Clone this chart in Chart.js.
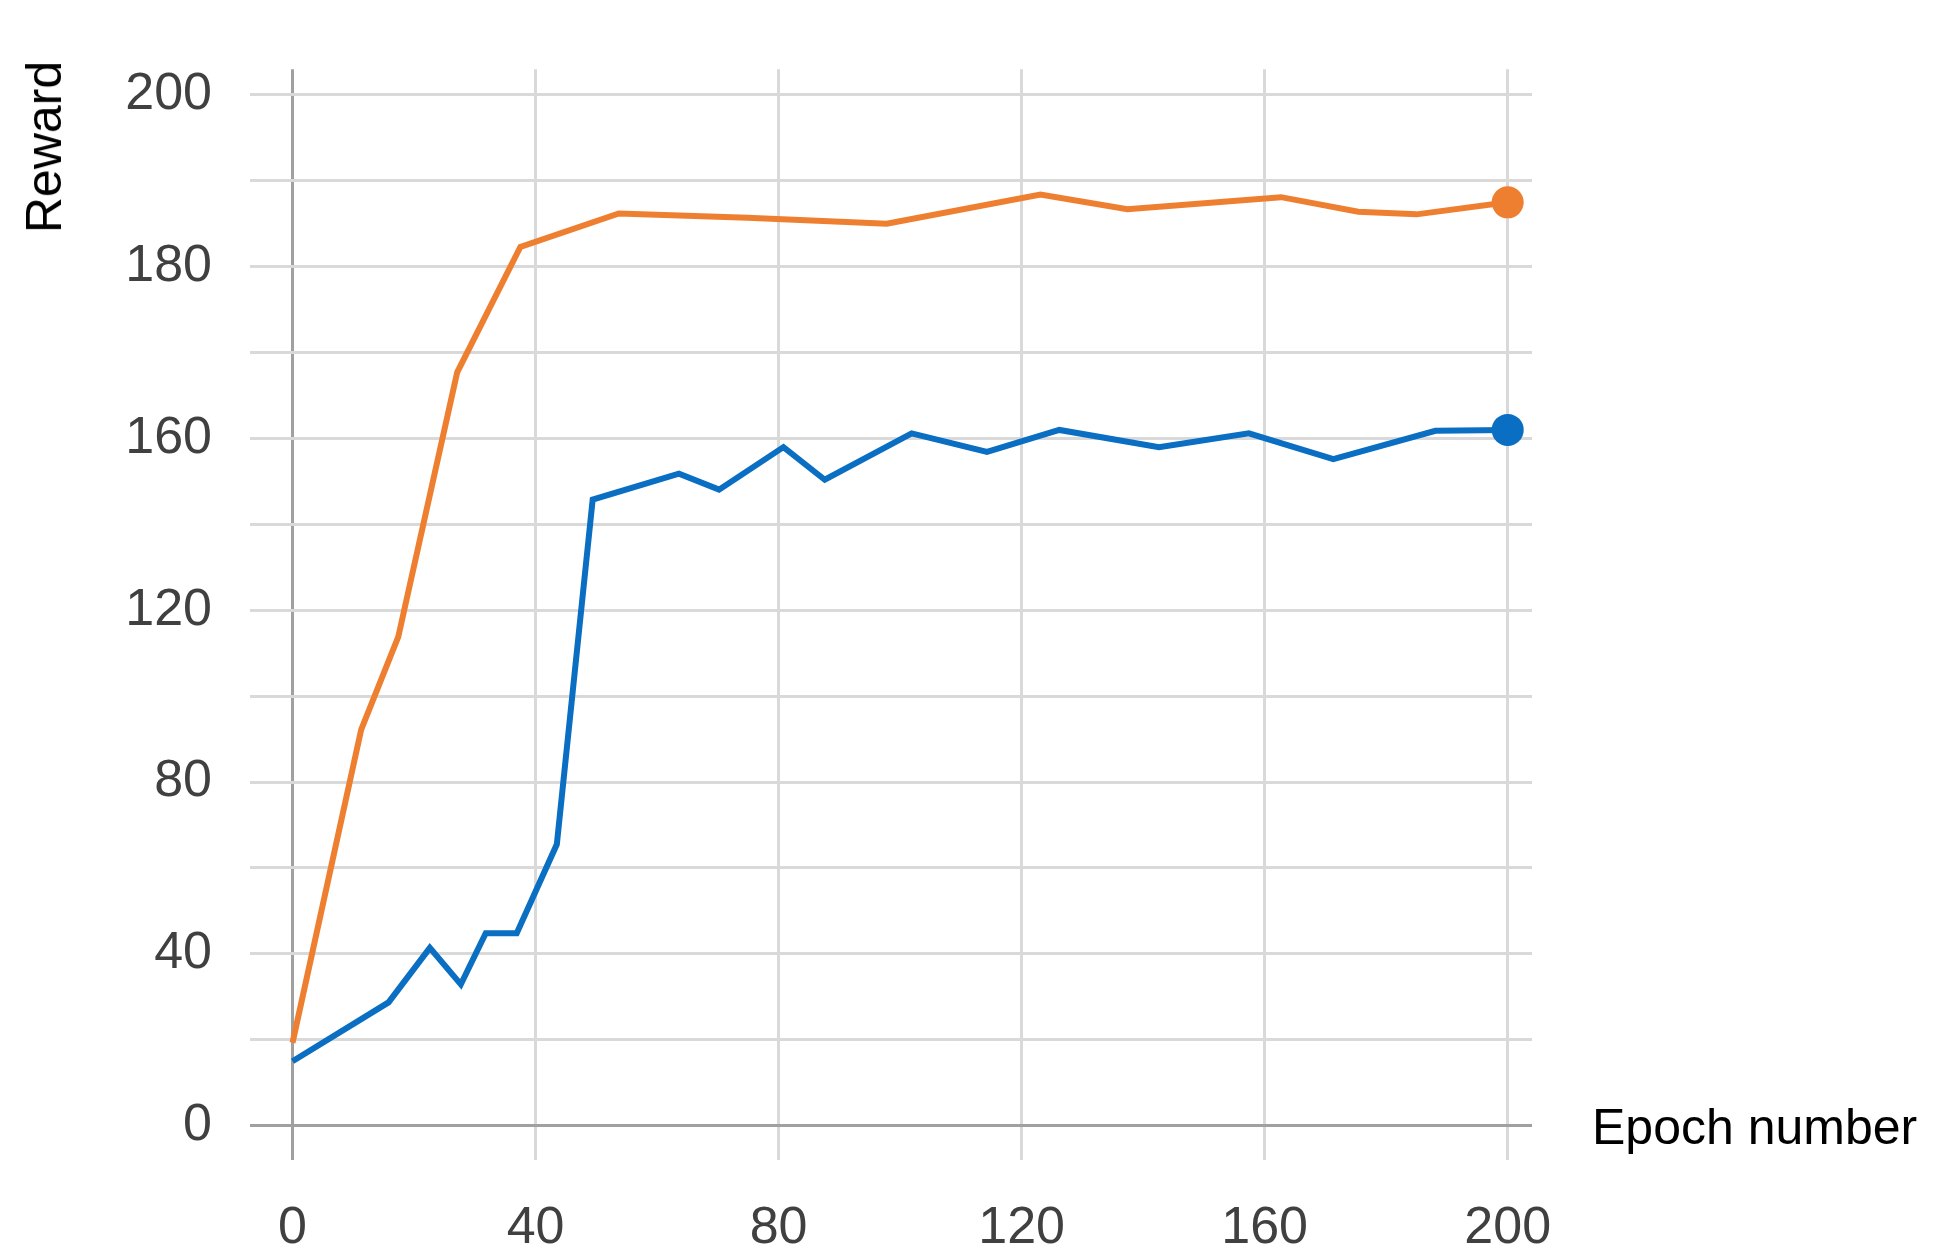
<!DOCTYPE html>
<html>
<head>
<meta charset="utf-8">
<script src="https://cdn.jsdelivr.net/npm/chart.js@4/dist/chart.umd.min.js"></script>
<style>
  html, body { margin: 0; padding: 0; background: #fff; }
  #wrap { position: relative; width: 1947px; height: 1260px; font-family: "Liberation Sans", Arial, sans-serif; }
  .title { position: absolute; color: #000; font-size: 50px; white-space: nowrap; }
  #ytitle { left: 44px; top: 147px; transform: translate(-50%, -50%) rotate(-90deg); }
  #xtitle { left: 1592px; top: 1127px; transform: translateY(-50%); }
</style>
</head>
<body>
<div id="wrap">
  <canvas id="myChart" width="1947" height="1260"></canvas>
  <div class="title" id="ytitle">Reward</div>
  <div class="title" id="xtitle">Epoch number</div>
</div>
<script>
// the y axis labels are equally spaced but not linear in value
const Y_LABELS = [0, 40, 80, 120, 160, 180, 200];
const X_TICKS = [0, 40, 80, 120, 160, 200];

const orangeEpochs = [0, 11.3, 17.4, 27.1, 37.5, 53.7, 74.9, 97.8, 123.1, 137.4, 162.7, 175.4, 185.0, 200];
const orangeReward = [19.3, 92.2, 113.8, 167.7, 182.3, 186.2, 185.7, 185.0, 188.4, 186.7, 188.1, 186.4, 186.1, 187.5];

const blueEpochs = [0, 15.8, 22.6, 27.7, 31.8, 36.9, 43.5, 49.4, 63.6, 70.2, 80.8, 87.6, 101.9, 114.3, 126.2, 142.6, 157.4, 171.3, 188.1, 200];
const blueReward = [15.0, 28.7, 41.4, 32.9, 44.8, 44.8, 65.5, 145.8, 151.8, 148.1, 158.0, 150.4, 160.6, 156.9, 161.0, 158.0, 160.6, 155.2, 160.9, 161.0];

// reward -> position on the label index axis
function toAxis(v) {
    for (let i = 1; i < Y_LABELS.length; i++) {
        if (v <= Y_LABELS[i]) {
            return i - 1 + (v - Y_LABELS[i - 1]) / (Y_LABELS[i] - Y_LABELS[i - 1]);
        }
    }
    return Y_LABELS.length - 1;
}

const pts = (xs, ys) => xs.map((x, i) => ({ x, y: toAxis(ys[i]) }));
const lastDot = n => ctx => ctx.dataIndex === n - 1 ? 16 : 0;

new Chart(document.getElementById('myChart'), {
    type: 'line',
    data: {
        datasets: [
            {
                data: pts(orangeEpochs, orangeReward),
                borderColor: '#ef7f30', backgroundColor: '#ef7f30',
                borderWidth: 6, pointRadius: lastDot(orangeEpochs.length), pointBorderWidth: 0,
            },
            {
                data: pts(blueEpochs, blueReward),
                borderColor: '#0a6fc2', backgroundColor: '#0a6fc2',
                borderWidth: 6, pointRadius: lastDot(blueEpochs.length), pointBorderWidth: 0,
            }
        ]
    },
    options: {
        responsive: false,
        animation: false,
        layout: { padding: { left: 0, top: 5, right: 415, bottom: 0 } },
        plugins: { legend: { display: false }, tooltip: { enabled: false } },
        scales: {
            x: {
                type: 'linear', min: -7, max: 204,
                afterBuildTicks: s => { s.ticks = X_TICKS.map(v => ({ value: v })); },
                afterFit: s => { s.height = 100; },
                border: { display: false },
                grid: {
                    drawTicks: false, lineWidth: 3,
                    color: c => c.tick && c.tick.value === 0 ? '#a0a0a0' : '#d9d9d9',
                },
                ticks: { padding: 37, color: '#404040', font: { size: 52, family: 'Liberation Sans' }, maxRotation: 0 },
            },
            y: {
                type: 'linear', min: -0.2, max: 6.15,
                afterBuildTicks: s => {
                    const t = [];
                    for (let v = 0; v <= 6; v += 0.5) t.push({ value: v });
                    s.ticks = t;
                },
                afterFit: s => { s.width = 250; },
                border: { display: false },
                grid: {
                    drawTicks: false, lineWidth: 3,
                    color: c => c.tick && c.tick.value === 0 ? '#a0a0a0' : '#d9d9d9',
                },
                ticks: {
                    padding: 38, color: '#404040', font: { size: 52, family: 'Liberation Sans' },
                    callback: v => Number.isInteger(v) ? String(Y_LABELS[v]) : '',
                },
            }
        }
    }
});
</script>
</body>
</html>
